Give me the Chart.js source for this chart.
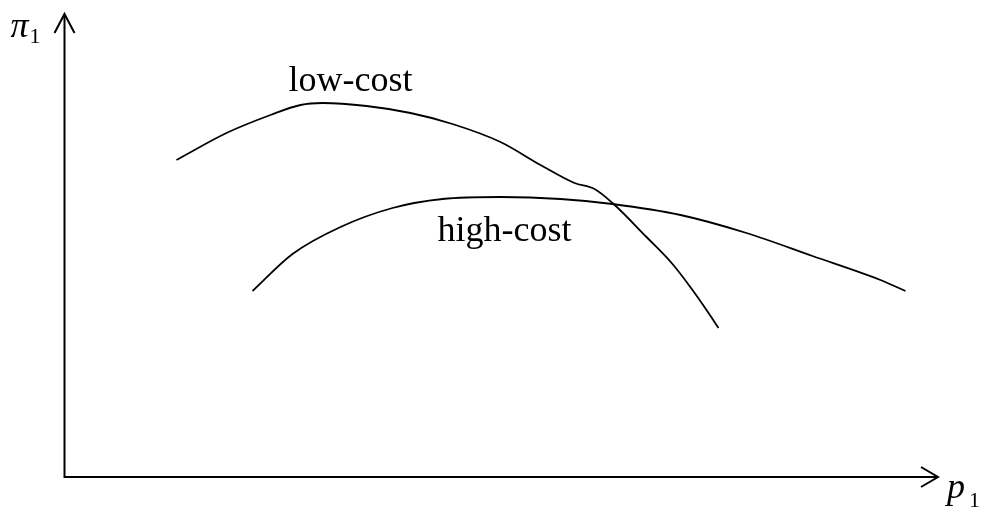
<!DOCTYPE html>
<html>
<head>
<meta charset="utf-8">
<script src="https://cdn.jsdelivr.net/npm/chart.js@4"></script>
<style>
html,body{margin:0;padding:0;background:#fff;}
#wrap{width:984px;height:511px;position:relative;}
</style>
</head>
<body>
<div id="wrap"><canvas id="c" width="984" height="511"></canvas></div>
<script>
// Data (axis units: origin at the axes' corner)
const lowCostX  = [112, 162, 206, 236, 258, 302, 346, 388, 436, 476, 510, 530, 548, 582, 608, 628, 642, 654];
const lowCostY  = [317, 344, 362, 372, 374, 371, 364, 353, 335, 312, 294, 288, 274, 240, 213, 187, 167, 149];
const highCostX = [188, 228, 276, 328, 378, 436, 496, 548, 616, 682, 748, 816, 841];
const highCostY = [186, 223, 250, 269, 278, 280, 278, 273, 262, 244, 221, 197, 186];
const curveLabels = ["low-cost", "high-cost"];
const axisLabels = {y: "π", ySub: "1", x: "p", xSub: "1"};

const toPts = (xs, ys) => xs.map((x, i) => ({x: x, y: ys[i]}));

const axesPlugin = {
  id: 'axesPlugin',
  afterDatasetsDraw(chart) {
    const {ctx, scales: {x, y}} = chart;
    const ox = x.getPixelForValue(0), oy = y.getPixelForValue(0);
    const yTip = y.getPixelForValue(463), xTip = x.getPixelForValue(873.5);
    ctx.save();
    ctx.strokeStyle = '#000';
    ctx.lineWidth = 2;
    ctx.beginPath();
    ctx.moveTo(ox, oy); ctx.lineTo(ox, yTip);
    ctx.moveTo(ox - 1, oy); ctx.lineTo(xTip, oy);
    ctx.stroke();
    ctx.beginPath();
    ctx.moveTo(ox - 10, yTip + 19); ctx.lineTo(ox, yTip); ctx.lineTo(ox + 10, yTip + 19);
    ctx.moveTo(xTip - 17, oy - 10); ctx.lineTo(xTip, oy); ctx.lineTo(xTip - 17, oy + 10);
    ctx.stroke();
    ctx.fillStyle = '#000';
    ctx.textBaseline = 'alphabetic';
    ctx.textAlign = 'left';
    ctx.font = '36px "Liberation Serif", "Times New Roman", serif';
    ctx.fillText(curveLabels[0], x.getPixelForValue(224), y.getPixelForValue(386));
    ctx.fillText(curveLabels[1], x.getPixelForValue(373), y.getPixelForValue(236));
    ctx.font = 'italic 36px "Liberation Serif", "Times New Roman", serif';
    ctx.fillText(axisLabels.y, ox - 54, yTip + 23);
    ctx.fillText(axisLabels.x, xTip + 9, oy + 21);
    ctx.font = '22px "Liberation Serif", "Times New Roman", serif';
    ctx.fillText(axisLabels.ySub, ox - 35, yTip + 29);
    ctx.fillText(axisLabels.xSub, xTip + 31, oy + 30);
    ctx.restore();
  }
};

new Chart(document.getElementById('c'), {
  type: 'line',
  data: {
    datasets: [
      {label: curveLabels[0], data: toPts(lowCostX, lowCostY), borderColor: '#000', borderWidth: 1.8, pointRadius: 0, fill: false, cubicInterpolationMode: 'monotone'},
      {label: curveLabels[1], data: toPts(highCostX, highCostY), borderColor: '#000', borderWidth: 1.8, pointRadius: 0, fill: false, cubicInterpolationMode: 'monotone'}
    ]
  },
  options: {
    responsive: false,
    animation: false,
    layout: {padding: 0},
    plugins: {legend: {display: false}, tooltip: {enabled: false}},
    scales: {
      x: {type: 'linear', min: -64.5, max: 919.5, display: false},
      y: {type: 'linear', min: -34, max: 477, display: false}
    }
  },
  plugins: [axesPlugin]
});
</script>
</body>
</html>
